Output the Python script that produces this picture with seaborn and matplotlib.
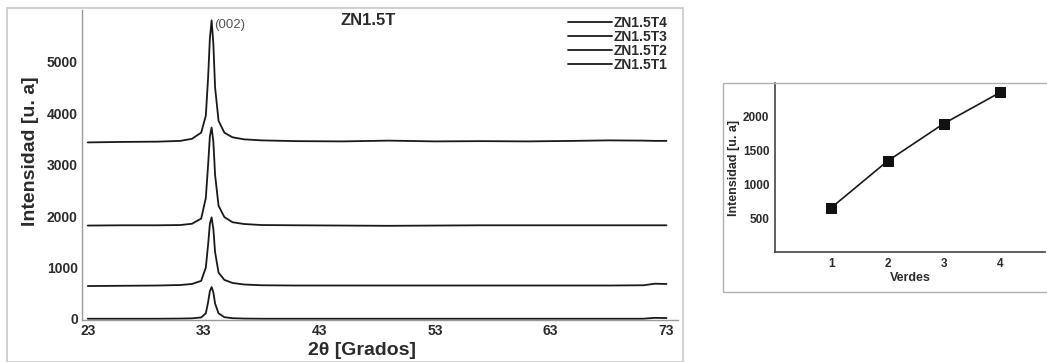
import numpy as np
import pandas as pd
import matplotlib
matplotlib.use("Agg")
import matplotlib.pyplot as plt
import seaborn as sns
from matplotlib.patches import Rectangle

# XRD patterns (2theta in degrees, intensity in a.u.)
two_theta = [23.0, 26.0, 29.0, 31.0, 32.0, 32.8, 33.2, 33.4, 33.55, 33.7, 33.85,
             34.0, 34.3, 34.8, 35.5, 36.5, 38.0, 41.0, 45.0, 49.0, 53.0, 57.0,
             61.0, 65.0, 68.0, 71.0, 72.0, 73.0]
zn_t1 = [5, 5, 5, 8, 12, 30, 110, 330, 540, 620, 520, 300, 110, 35, 15, 8,
         5, 5, 5, 5, 5, 5, 5, 5, 5, 5, 22, 18]
zn_t2 = [640, 645, 650, 660, 680, 740, 1000, 1450, 1850, 1975, 1750, 1300, 900,
         760, 700, 670, 655, 650, 650, 650, 650, 650, 650, 650, 650, 655, 685, 680]
zn_t3 = [1815, 1820, 1820, 1825, 1850, 1950, 2350, 3000, 3550, 3720, 3450, 2800,
         2200, 1980, 1880, 1845, 1825, 1820, 1815, 1810, 1815, 1820, 1820, 1820,
         1820, 1820, 1820, 1820]
zn_t4 = [3430, 3440, 3445, 3460, 3500, 3620, 3950, 4700, 5450, 5800, 5350, 4500,
         3850, 3620, 3530, 3490, 3470, 3455, 3450, 3465, 3450, 3455, 3450, 3460,
         3470, 3465, 3460, 3460]
series_labels = ["ZN1.5T4", "ZN1.5T3", "ZN1.5T2", "ZN1.5T1"]

# peak intensity vs number of layers
verdes = [1, 2, 3, 4]
intensidad = [655, 1345, 1900, 2360]

sns.set_style("white")
plt.rcParams["font.family"] = ["Liberation Sans", "DejaVu Sans"]
txt = "#2b2b2b"
axc = "#9a9a9a"

fig = plt.figure(figsize=(10.47, 3.62), dpi=100)

# panel frames
fig.patches.append(Rectangle((0.0067, 0.0), 0.6457, 0.978, transform=fig.transFigure,
                             fill=False, edgecolor="#c8c8c8", lw=1.2))
fig.patches.append(Rectangle((0.6905, 0.1934), 0.31, 0.5773, transform=fig.transFigure,
                             fill=False, edgecolor="#b0b0b0", lw=1.0))

# left panel: XRD patterns
ax = fig.add_axes([0.0783, 0.116, 0.5693, 0.856])
df = pd.DataFrame({"tt": two_theta, "ZN1.5T4": zn_t4, "ZN1.5T3": zn_t3,
                   "ZN1.5T2": zn_t2, "ZN1.5T1": zn_t1})
for lab in series_labels:
    sns.lineplot(data=df, x="tt", y=lab, ax=ax, color="#1a1a1a", lw=1.3, label=lab)
ax.set_xlim(22.5, 74)
ax.set_ylim(-20, 6000)
ax.set_xticks([23, 33, 43, 53, 63, 73])
ax.set_yticks([0, 1000, 2000, 3000, 4000, 5000])
for s in ["top", "right"]:
    ax.spines[s].set_visible(False)
for s in ["left", "bottom"]:
    ax.spines[s].set_color(axc)
    ax.spines[s].set_linewidth(1.0)
ax.tick_params(axis="both", length=2, width=0.8, color=axc, labelsize=10,
               labelcolor=txt, pad=1)
for t in ax.get_xticklabels() + ax.get_yticklabels():
    t.set_fontweight("bold")
ax.set_xlabel("2θ [Grados]", fontsize=14, fontweight="bold", color=txt, labelpad=1)
ax.xaxis.set_label_coords(0.47, -0.07)
ax.set_ylabel("Intensidad [u. a]", fontsize=14, fontweight="bold", color=txt, labelpad=8)
ax.yaxis.set_label_coords(-0.072, 0.545)
ax.text(0.48, 0.99, "ZN1.5T", transform=ax.transAxes, ha="center", va="top",
        fontsize=12, fontweight="bold", color=txt)
ax.text(33.95, 5720, "(002)", ha="left", va="center", fontsize=9.5, color="#555555")
leg = ax.legend(loc="upper right", bbox_to_anchor=(0.992, 1.0), frameon=False,
                handlelength=3.2, handletextpad=0.1, labelspacing=0.0,
                fontsize=10, borderaxespad=0.0)
for t in leg.get_texts():
    t.set_fontweight("bold")
    t.set_color(txt)

# right panel: peak intensity vs verdes
ax2 = fig.add_axes([0.7402, 0.3039, 0.258, 0.4668])
sns.lineplot(x=verdes, y=intensidad, ax=ax2, color="#1a1a1a", lw=1.2,
             marker="s", markersize=7.5, markeredgecolor="#111111",
             markerfacecolor="#111111")
ax2.set_xlim(0, 4.8)
ax2.set_ylim(0, 2500)
ax2.set_xticks([1, 2, 3, 4])
ax2.set_yticks([500, 1000, 1500, 2000])
for s in ["top", "right"]:
    ax2.spines[s].set_visible(False)
for s in ["left", "bottom"]:
    ax2.spines[s].set_color("#444444")
    ax2.spines[s].set_linewidth(1.2)
ax2.tick_params(axis="both", length=2, width=0.8, color="#444444", labelsize=8.5,
                labelcolor=txt, pad=2)
for t in ax2.get_xticklabels() + ax2.get_yticklabels():
    t.set_fontweight("bold")
ax2.set_xlabel("Verdes", fontsize=9, fontweight="bold", color=txt, labelpad=2)
ax2.set_ylabel("Intensidad [u. a]", fontsize=9, fontweight="bold", color=txt, labelpad=3)
ax2.yaxis.set_label_coords(-0.13, 0.5)

fig.savefig("out.png", dpi=100)
